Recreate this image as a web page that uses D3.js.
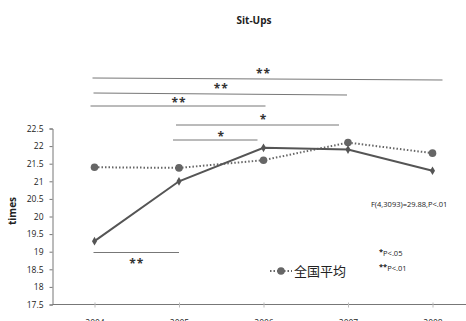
<!DOCTYPE html>
<html>
<head>
<meta charset="utf-8">
<script src="https://cdn.jsdelivr.net/npm/d3@7"></script>
<style>
  body { margin: 0; background: #fff; }
  text { font-family: "Open Sans", "Liberation Sans", sans-serif; }
</style>
</head>
<body>
<script>
const width = 466;
const height = 321;

const years = ["2004", "2005", "2006", "2007", "2008"];
const sitUps = [19.3, 21.0, 21.95, 21.9, 21.3];
const national = [21.4, 21.38, 21.6, 22.1, 21.8];
const yTicks = [17.5, 18, 18.5, 19, 19.5, 20, 20.5, 21, 21.5, 22, 22.5];

// significance brackets: from year, to year, stars
const brackets = [
  { from: "2004", to: "2008", mark: "**" },
  { from: "2004", to: "2007", mark: "**" },
  { from: "2004", to: "2006", mark: "**" },
  { from: "2005", to: "2007", mark: "*" },
  { from: "2005", to: "2006", mark: "*" }
];
const bracketLevels = [78, 93, 106, 125, 140];
const labelLevels = [74, 89, 103, 120, 137];
const startPad = [-2, -1, -4, -3, -6];
const endPad = [10, -1, 2, -9, -6];

const xScale = d3.scalePoint()
                  .domain(years)
                  .range([94.5, 432.5]);

const yScale = d3.scaleLinear()
                  .domain([17.5, 22.5])
                  .range([304.5, 128.5]);

const svg = d3.select("body")
          .append("svg")
            .attr("width", width)
            .attr("height", height);

svg.append("text")
  .attr("x", 254).attr("y", 24)
  .attr("text-anchor", "middle")
  .attr("font-size", 10).attr("font-weight", "bold")
  .attr("fill", "#222")
  .text("Sit-Ups");

// y axis
const yAxis = svg.append("g")
  .attr("transform", "translate(52.5,0)")
  .call(d3.axisLeft(yScale).tickValues(yTicks).tickSize(3).tickPadding(6)
        .tickFormat(d3.format("")));
yAxis.selectAll("text").attr("font-size", 8.5).attr("fill", "#222")
  .style("font-family", "'Open Sans', sans-serif");
yAxis.selectAll("line, path").attr("stroke", "#777");

// x axis
const xAxis = svg.append("g")
  .attr("transform", "translate(0,304.5)")
  .call(d3.axisBottom(xScale).tickSize(0).tickPadding(15));
xAxis.select(".domain").attr("d", "M52.5,0H466").attr("stroke", "#777");
xAxis.selectAll("text").attr("font-size", 8.5).attr("fill", "#222")
  .style("font-family", "'Open Sans', sans-serif");
xAxis.selectAll(".tick").append("line")
  .attr("y1", -2).attr("y2", 3).attr("stroke", "#bbb");

svg.append("text")
  .attr("transform", "translate(16,211) rotate(-90)")
  .attr("text-anchor", "middle")
  .attr("font-size", 10).attr("font-weight", "bold")
  .attr("fill", "#222")
  .text("times");

// brackets
brackets.forEach(function(b, i) {
  svg.append("line")
    .attr("x1", xScale(b.from) + startPad[i])
    .attr("x2", xScale(b.to) + endPad[i])
    .attr("y1", bracketLevels[i]).attr("y2", bracketLevels[i] + (i < 2 ? 2 : 0))
    .attr("stroke", "#777").attr("stroke-width", 1);
  svg.append("text")
    .attr("x", (xScale(b.from) + xScale(b.to)) / 2)
    .attr("y", labelLevels[i] + 4)
    .attr("text-anchor", "middle")
    .attr("font-size", 12).attr("font-weight", "bold")
    .attr("letter-spacing", 1)
    .attr("fill", "#333")
    .text(b.mark);
});

svg.append("line")
  .attr("x1", xScale("2004") - 1).attr("x2", xScale("2005"))
  .attr("y1", 252.5).attr("y2", 252.5)
  .attr("stroke", "#777");
svg.append("text")
  .attr("x", (xScale("2004") + xScale("2005")) / 2)
  .attr("y", 268)
  .attr("text-anchor", "middle")
  .attr("font-size", 12).attr("font-weight", "bold")
  .attr("letter-spacing", 1)
  .attr("fill", "#333")
  .text("**");

// national average (dotted)
const natLine = d3.line()
  .x(function(d, i) { return xScale(years[i]); })
  .y(function(d) { return yScale(d); });

svg.append("path")
  .attr("d", natLine(national))
  .attr("fill", "none")
  .attr("stroke", "#666")
  .attr("stroke-width", 2)
  .attr("stroke-dasharray", "1.5,2");

svg.selectAll("circle.nat")
 .data(national)
 .enter()
 .append("circle")
   .attr("class", "nat")
   .attr("cx", function(d, i) { return xScale(years[i]); })
   .attr("cy", function(d) { return yScale(d); })
   .attr("r", 3.8)
   .attr("fill", "#666");

// sit-ups (solid)
svg.append("path")
  .attr("d", natLine(sitUps))
  .attr("fill", "none")
  .attr("stroke", "#555")
  .attr("stroke-width", 2);

svg.selectAll("path.dia")
 .data(sitUps)
 .enter()
 .append("path")
   .attr("class", "dia")
   .attr("d", d3.symbol().type(d3.symbolDiamond).size(22))
   .attr("transform", function(d, i) {
     return "translate(" + xScale(years[i]) + "," + yScale(d) + ")";
   })
   .attr("fill", "#555");

svg.append("text")
  .attr("x", 371).attr("y", 207)
  .attr("font-size", 7.5).attr("fill", "#222")
  .text("F(4,3093)=29.88,P<.01");

// legend
svg.append("line")
  .attr("x1", 270).attr("x2", 292)
  .attr("y1", 271).attr("y2", 271)
  .attr("stroke", "#666").attr("stroke-width", 2)
  .attr("stroke-dasharray", "1.5,2");
svg.append("circle")
  .attr("cx", 281).attr("cy", 271).attr("r", 3.8).attr("fill", "#666");
svg.append("text")
  .attr("x", 294).attr("y", 276)
  .attr("font-size", 13)
  .style("font-family", "'Noto Sans CJK SC', sans-serif")
  .attr("fill", "#222")
  .text("全国平均");

const pNotes = [{ s: "*", t: "P<.05" }, { s: "**", t: "P<.01" }];
pNotes.forEach(function(p, i) {
  const t = svg.append("text")
    .attr("x", 379).attr("y", 256 + i * 15)
    .attr("font-size", 7.5).attr("fill", "#222");
  t.append("tspan").attr("dy", -2).attr("font-weight", "bold").text(p.s);
  t.append("tspan").attr("dy", 2).text(p.t);
});
</script>
</body>
</html>
